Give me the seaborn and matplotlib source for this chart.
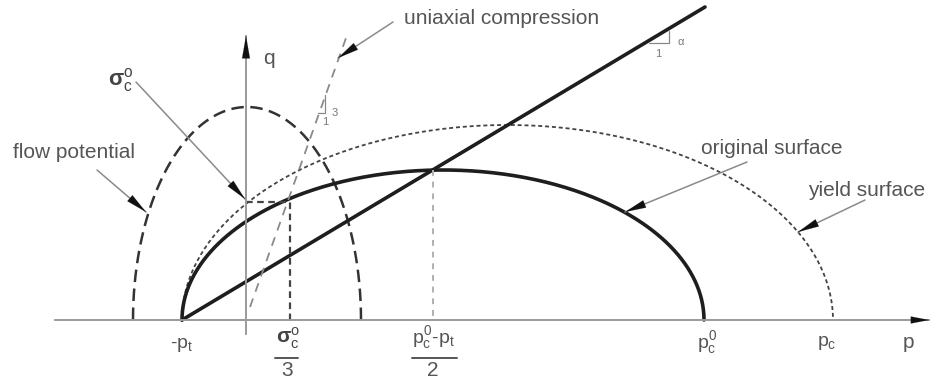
import numpy as np
import pandas as pd
import matplotlib
matplotlib.use("Agg")
import matplotlib.pyplot as plt
import seaborn as sns

# Key points on the p axis (diagram units, origin at the q axis)
p_t = 0.64            # tensile limit, curves start at -p_t
p_c0 = 4.58           # original cap position
p_c = 5.87            # hardened cap position
p_mid = 1.87          # (p_c0 - p_t) / 2 marker
p_sig3 = 0.44         # sigma_c / 3 marker
q_sig = 1.18          # sigma_c level on q axis

# Curve heights (peak q) and extents
orig_peak = 1.50
yield_peak = 1.95
flow_left, flow_right, flow_peak = -1.13, 1.15, 2.13

# Drucker-Prager line and uniaxial compression line
dp_p = [-0.64, 4.59]
dp_q = [0.0, 3.13]
uni_p = [0.04, 1.00]
uni_q = [0.13, 2.82]

# Axes extents
p_axis = [-1.94, 6.86]
q_axis = [-0.17, 2.87]

text_col = "#555555"
axis_col = "#9a9a9a"

sns.set_theme(style="white")
plt.rcParams["font.family"] = ["Liberation Sans", "DejaVu Sans"]
plt.rcParams["mathtext.fontset"] = "custom"
plt.rcParams["mathtext.rm"] = "Liberation Sans"
plt.rcParams["mathtext.it"] = "Liberation Sans"
plt.rcParams["mathtext.bf"] = "Liberation Sans:bold"


def half_ellipse(left, right, peak, n=300):
    t = np.linspace(0, np.pi, n)
    c = (left + right) / 2
    a = (right - left) / 2
    return pd.DataFrame({"p": c - a * np.cos(t), "q": peak * np.sin(t)})


fig = plt.figure(figsize=(9.33, 3.8), dpi=100)
ax = fig.add_axes([0, 0, 1, 1])
ax.set_xlim(-2.46, 6.87)
ax.set_ylim(-0.60, 3.20)
ax.axis("off")

line_kw = dict(ax=ax, x="p", y="q", sort=False, estimator=None, errorbar=None, legend=False)

# axes with arrowheads
ax.annotate("", xy=(p_axis[1], 0), xytext=(p_axis[0], 0),
            arrowprops=dict(arrowstyle="-", color=axis_col, lw=1.4))
ax.annotate("", xy=(p_axis[1], 0), xytext=(p_axis[1] - 0.2, 0),
            arrowprops=dict(arrowstyle="-|>,head_length=1.3,head_width=0.25",
                            mutation_scale=10, color="#111111", lw=0.1))
ax.annotate("", xy=(0, q_axis[1]), xytext=(0, q_axis[0]),
            arrowprops=dict(arrowstyle="-", color=axis_col, lw=1.4))
ax.annotate("", xy=(0, q_axis[1]), xytext=(0, q_axis[1] - 0.25),
            arrowprops=dict(arrowstyle="-|>,head_length=1.6,head_width=0.28",
                            mutation_scale=10, color="#111111", lw=0.1))

# curves
orig = half_ellipse(-p_t, p_c0, orig_peak)
yld = half_ellipse(-p_t, p_c, yield_peak)
flow = half_ellipse(flow_left, flow_right, flow_peak)

sns.lineplot(data=yld, color="#444444", lw=1.3, linestyle=(0, (2.2, 1.6)), **line_kw)
sns.lineplot(data=flow, color="#333333", lw=1.8, linestyle=(0, (5, 2.6)), **line_kw)
sns.lineplot(data=orig, color="#1e1e1e", lw=2.6, **line_kw)
sns.lineplot(data=pd.DataFrame({"p": dp_p, "q": dp_q}), color="#1e1e1e", lw=2.6, **line_kw)
sns.lineplot(data=pd.DataFrame({"p": uni_p, "q": uni_q}), color="#8a8a8a", lw=1.3,
             linestyle=(0, (5, 4)), **line_kw)

# helper dashed lines
sns.lineplot(data=pd.DataFrame({"p": [0, p_sig3, p_sig3], "q": [q_sig, q_sig, 0]}),
             color="#444444", lw=1.6, linestyle=(0, (3, 2)), **line_kw)
sns.lineplot(data=pd.DataFrame({"p": [p_mid, p_mid], "q": [orig_peak, 0]}),
             color="#b0b0b0", lw=1.4, linestyle=(0, (3, 3)), **line_kw)

# slope triangles
ax.plot([4.03, 4.23, 4.23], [2.77, 2.77, 2.89], color="#888888", lw=0.9)
ax.text(4.31, 2.78, r"$\alpha$", fontsize=8, color="#777777", ha="left", va="center")
ax.text(4.12, 2.66, "1", fontsize=8, color="#777777", ha="center", va="center")
ax.plot([0.72, 0.79, 0.79], [2.07, 2.07, 2.25], color="#888888", lw=0.9)
ax.text(0.86, 2.07, "3", fontsize=8, color="#777777", ha="left", va="center")
ax.text(0.79, 1.98, "1", fontsize=8, color="#777777", ha="center", va="center")


# annotation arrows: thin grey shaft, black head
def pointer(start, tip, head=0.2):
    ax.annotate("", xy=tip, xytext=start,
                arrowprops=dict(arrowstyle="-", color="#8a8a8a", lw=1.1, shrinkA=0, shrinkB=0))
    d = np.array(tip) - np.array(start)
    d = d / np.hypot(*d)
    ax.annotate("", xy=tip, xytext=tuple(np.array(tip) - d * head),
                arrowprops=dict(arrowstyle="-|>,head_length=1.5,head_width=0.28",
                                mutation_scale=10, color="#111111", lw=0.1,
                                shrinkA=0, shrinkB=0))


pointer((-1.10, 2.38), (-0.01, 1.21))
pointer((-1.49, 1.50), (-1.00, 1.08))
pointer((1.47, 2.98), (0.92, 2.62))
pointer((5.01, 1.58), (3.79, 1.08))
pointer((6.19, 1.20), (5.52, 0.88))

# labels
fs = 15
ax.text(-1.715, 1.67, "flow potential", fontsize=fs, color=text_col, ha="center", va="center")
ax.text(2.56, 3.02, "uniaxial compression", fontsize=fs, color=text_col, ha="center", va="center")
ax.text(5.26, 1.72, "original surface", fontsize=fs, color=text_col, ha="center", va="center")
ax.text(6.21, 1.30, "yield surface", fontsize=fs, color=text_col, ha="center", va="center")
ax.text(-1.25, 2.40, r"$\mathbf{\sigma}^{o}_{c}$", fontsize=fs + 1, color="#444444",
        ha="center", va="center")
ax.text(0.17, 2.62, "q", fontsize=fs, color=text_col, ha="left", va="center")
ax.text(6.62, -0.23, "p", fontsize=fs, color=text_col, ha="center", va="center")

ax.text(-p_t, -0.25, r"-$p_t$", fontsize=fs - 1, color=text_col, ha="center", va="center")
ax.text(p_c0 + 0.03, -0.23, r"$p^0_c$", fontsize=fs - 1, color=text_col, ha="center", va="center")
ax.text(p_c - 0.06, -0.23, r"$p_c$", fontsize=fs - 1, color=text_col, ha="center", va="center")

# fractions under the axis
ax.text(p_sig3 - 0.02, -0.18, r"$\mathbf{\sigma}^{o}_{c}$", fontsize=fs, color="#444444",
        ha="center", va="center")
ax.plot([p_sig3 - 0.15, p_sig3 + 0.08], [-0.38, -0.38], color=text_col, lw=1.4)
ax.text(p_sig3 - 0.03, -0.51, "3", fontsize=fs, color=text_col, ha="center", va="center")

ax.text(p_mid, -0.18, r"$p^0_c$-$p_t$", fontsize=fs - 1, color=text_col, ha="center", va="center")
ax.plot([p_mid - 0.21, p_mid + 0.24], [-0.38, -0.38], color=text_col, lw=1.4)
ax.text(p_mid, -0.51, "2", fontsize=fs, color=text_col, ha="center", va="center")

fig.savefig("out.png", dpi=100, facecolor="white")
